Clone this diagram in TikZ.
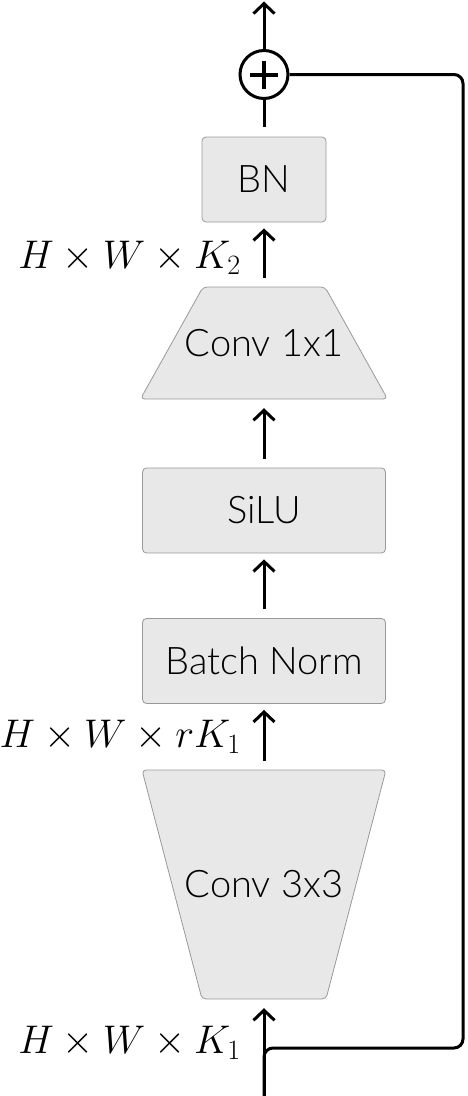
\RequirePackage{fix-cm}
\documentclass[tikz,border=0pt]{standalone}
\usepackage{fontspec}
\setmainfont{Lato}[UprightFont=* Light]
\usetikzlibrary{positioning,calc,arrows.meta}

\begin{document}
\begin{tikzpicture}[
  x = 1pt,
  y = -1pt,
  block/.style = {
    draw = black!40, line width = 0.8pt, fill = black!9,
    rounded corners = 4pt, inner sep = 0pt,
    font = \fontsize{38}{44}\selectfont,
  },
  box/.style = {block, rectangle, minimum width = 243pt, minimum height = 85pt},
  trap/.style = {inner sep = 0pt, font = \fontsize{38}{44}\selectfont},
  flow/.style = {line width = 3pt, -{Straight Barb[length=10pt,width=21pt]}},
  skip/.style = {line width = 3pt, rounded corners = 9pt},
  dims/.style = {anchor = base east, inner sep = 0pt,
    font = \fontsize{40}{48}\selectfont},
  ]
  \useasboundingbox (0,0) rectangle (467,1096);

  % trapezoid bodies
  \path[block] (203,287) -- (325,287) -- (387.5,399) -- (140.5,399) -- cycle;
  \path[block] (142,770) -- (386,770) -- (326,999) -- (202,999) -- cycle;

  \node[box, minimum width = 124pt] (bn) at (264,179.5) {BN};
  \node[trap, minimum height = 112pt] (conv1) at (264,343) {Conv 1x1};
  \node[box] (silu) at (264,510.5) {SiLU};
  \node[box] (bnorm) at (264,661) {Batch Norm};
  \node[trap, minimum height = 229pt] (conv3) at (264,884.5) {Conv 3x3};
  \node[circle, draw, line width = 3pt, minimum size = 48pt, inner sep = 0pt]
    (plus) at (264,74.5) {};
  \draw[line width = 4pt]
  ($(plus.center)+(-14,0)$) -- ($(plus.center)+(14,0)$)
  ($(plus.center)+(0,-14)$) -- ($(plus.center)+(0,14)$);

  \coordinate (in) at (264,1096);
  \coordinate (out) at (264,1.5);
  \coordinate (turn) at (463,1048);

  \draw[flow, shorten <= 9pt, shorten >= 6pt] (conv1.north) -- (bn.south);
  \draw[flow, shorten <= 9pt, shorten >= 9pt] (silu) -- (conv1.south);
  \draw[flow, shorten <= 9pt, shorten >= 6pt] (bnorm) -- (silu);
  \draw[flow, shorten <= 9pt, shorten >= 6pt] (conv3.north) -- (bnorm.south);
  \draw[flow, shorten >= 9pt] (in) -- (conv3.south);
  \draw[line width = 3pt, shorten <= 10pt] (bn.north) -- (plus.south);
  \draw[flow] (plus.north) -- (out);
  \draw[skip] (in) |- (turn) |- (plus.east);

  \node[dims] at (241,268) {$H \times W \times K_2$};
  \node[dims] at (241,747) {$H \times W \times rK_1$};
  \node[dims] at (241,1053) {$H \times W \times K_1$};
\end{tikzpicture}
\end{document}
